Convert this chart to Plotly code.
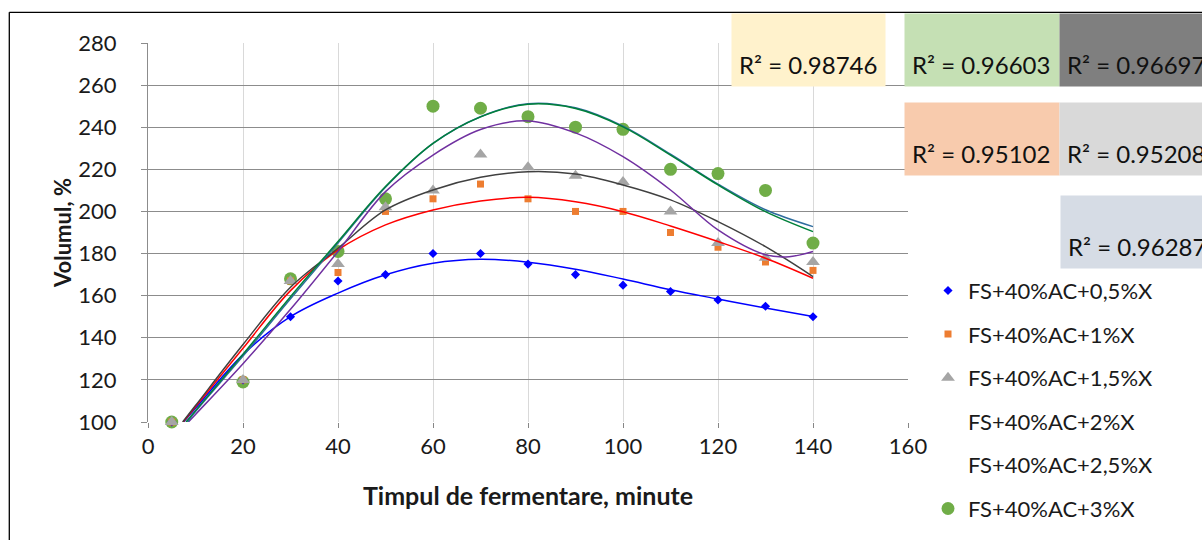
import plotly.graph_objects as go

# ---------------- data ----------------
x_time = [5, 20, 30, 40, 50, 60, 70, 80, 90, 100, 110, 120, 130, 140]

v_05 = [100, 120, 150, 167, 170, 180, 180, 175, 170, 165, 162, 158, 155, 150]
v_1 = [100, 120, 167, 171, 200, 206, 213, 206, 200, 200, 190, 183, 176, 172]
v_15 = [100, 120, 167, 175, 202, 210, 227, 221, 217, 214, 200, 185, 178, 176]
v_3 = [100, 119, 168, 181, 206, 250, 249, 245, 240, 239, 220, 218, 210, 185]

series_names = ["FS+40%AC+0,5%X", "FS+40%AC+1%X", "FS+40%AC+1,5%X",
                "FS+40%AC+2%X", "FS+40%AC+2,5%X", "FS+40%AC+3%X"]

# trendlines
tx_blue = [7.5, 10, 20, 30, 40, 50, 60, 70, 80, 90, 100, 110, 120, 130, 140]
ty_blue = [100, 106.5, 132, 150, 161.2, 169.9, 175.4, 177.3, 175.9, 172.6, 167.9, 162.8, 158.4, 154.1, 150.1]

tx_red = [7.4, 10, 20, 30, 40, 50, 60, 70, 80, 90, 100, 110, 120, 130, 140]
ty_red = [100, 107.2, 135, 162.4, 181.7, 193.6, 200.7, 205, 206.7, 204.6, 199.9, 193.1, 185.7, 177.8, 168.3]

tx_gray = [7.3, 10, 20, 30, 40, 50, 60, 70, 80, 90, 100, 110, 120, 130, 140]
ty_gray = [100, 107.8, 136.8, 164, 182.5, 200.7, 210.2, 216.2, 218.9, 217.8, 212.6, 205.5, 195.2, 183.3, 169.1]

tx_purple = [8.5, 10, 20, 30, 40, 50, 60, 70, 80, 90, 100, 110, 120, 130, 135, 140]
ty_purple = [100, 103.6, 127.7, 153.5, 181, 209.4, 226.8, 238.9, 243, 237.3, 226, 210.2, 191.2, 179.4, 178.5, 181]

tx_green = [8, 10, 20, 30, 40, 50, 60, 70, 80, 90, 100, 110, 120, 130, 140]
ty_green = [100, 105.4, 132.2, 159.5, 185.7, 211.8, 232.3, 244.9, 250.9, 248.9, 240.2, 226.8, 212.6, 199.9, 190.4]

tx_teal = [8.3, 10, 20, 30, 40, 50, 60, 70, 80, 90, 100, 110, 120, 130, 140]
ty_teal = [100, 105, 131.3, 158.5, 185, 211.5, 232.3, 245, 251.2, 249.2, 240.5, 227.2, 213, 200.8, 192.8]

r2_labels = ["R² = 0.98746", "R² = 0.96603", "R² = 0.96697",
             "R² = 0.95102", "R² = 0.95208", "R² = 0.96287"]

# ---------------- layout geometry ----------------
W, H = 1202, 540
L, R, T, B = 148, 908, 43, 422.5


def px_x(px):
    return (px - L) / (R - L)


def px_y(py):
    return (B - py) / (B - T)


FONT = "Lato, 'Open Sans', sans-serif"
TXT = "#1a1a1a"

fig = go.Figure()

# markers (green first so others sit on it)
fig.add_trace(go.Scatter(x=x_time, y=v_3, mode="markers", name=series_names[5],
                         marker=dict(symbol="circle", size=13, color="#70AD47"),
                         cliponaxis=False, legendrank=6, legendgroup="g6"))
fig.add_trace(go.Scatter(x=x_time, y=v_05, mode="markers", name=series_names[0],
                         marker=dict(symbol="diamond", size=7, color="#0000FF"),
                         cliponaxis=False, legendrank=1, legendgroup="g1"))
fig.add_trace(go.Scatter(x=x_time, y=v_1, mode="markers", name=series_names[1],
                         marker=dict(symbol="square", size=7, color="#ED7D31"),
                         cliponaxis=False, legendrank=2, legendgroup="g2"))
fig.add_trace(go.Scatter(x=x_time, y=v_15, mode="markers", name=series_names[2],
                         marker=dict(symbol="triangle-up", size=12, color="#A5A5A5"),
                         cliponaxis=False, legendrank=3, legendgroup="g3"))
fig.add_trace(go.Scatter(x=[None], y=[None], mode="markers", name=series_names[3],
                         marker=dict(size=8, color="rgba(0,0,0,0)"),
                         legendrank=4, legendgroup="g4"))
fig.add_trace(go.Scatter(x=[None], y=[None], mode="markers", name=series_names[4],
                         marker=dict(size=8, color="rgba(0,0,0,0)"),
                         legendrank=5, legendgroup="g5"))

# trendlines
for tx, ty, col in [(tx_blue, ty_blue, "#0000FF"), (tx_red, ty_red, "#FF0000"),
                    (tx_gray, ty_gray, "#404040"), (tx_purple, ty_purple, "#7030A0"),
                    (tx_teal, ty_teal, "#2E6C9E"), (tx_green, ty_green, "#00803A")]:
    fig.add_trace(go.Scatter(x=tx, y=ty, mode="lines", showlegend=False, hoverinfo="skip",
                             line=dict(color=col, width=1.5, shape="spline", smoothing=1.0)))

# R² boxes
boxes = [
    (r2_labels[0], "#FFF2CC", 731, 13, 153, 72),
    (r2_labels[1], "#C5E0B4", 904, 13, 154, 72),
    (r2_labels[2], "#7F7F7F", 1059, 13, 170, 72),
    (r2_labels[3], "#F8CBAD", 904, 101.7, 154, 71.6),
    (r2_labels[4], "#D9D9D9", 1059, 101.7, 170, 71.6),
    (r2_labels[5], "#D6DCE5", 1060, 195, 170, 71.7),
]
pad = 7
for text, bg, bx, by, bw, bh in boxes:
    fig.add_annotation(text=text, xref="paper", yref="paper",
                       x=px_x(bx), y=px_y(by), xanchor="left", yanchor="top",
                       width=bw - 2 * pad, height=bh - 2 * pad, borderpad=pad,
                       align="left", valign="bottom", bgcolor=bg, showarrow=False,
                       font=dict(family=FONT, size=24, color="#111111"))

# chart border (top and left edges visible)
fig.add_shape(type="line", xref="paper", yref="paper",
              x0=px_x(9.3), x1=px_x(1230), y0=px_y(12.3), y1=px_y(12.3),
              line=dict(color="#000000", width=1.3))
fig.add_shape(type="line", xref="paper", yref="paper",
              x0=px_x(9.3), x1=px_x(9.3), y0=px_y(12.3), y1=px_y(560),
              line=dict(color="#000000", width=1.3))

fig.update_layout(
    width=W, height=H,
    margin=dict(l=L, r=W - R, t=T, b=H - B, autoexpand=False),
    paper_bgcolor="white", plot_bgcolor="white",
    font=dict(family=FONT, size=22, color=TXT),
    showlegend=True,
    legend=dict(x=px_x(928), y=px_y(270), xanchor="left", yanchor="top",
                font=dict(family=FONT, size=22, color=TXT),
                tracegroupgap=12, itemwidth=30, bgcolor="rgba(0,0,0,0)",
                traceorder="grouped"),
    xaxis=dict(range=[0, 160], dtick=20, tick0=0, showgrid=True, gridcolor="#D9D9D9",
               gridwidth=1, zeroline=False, showline=False,
               ticks="outside", ticklen=5, tickcolor="#868686",
               tickfont=dict(family=FONT, size=22, color=TXT),
               title=dict(text="<b>Timpul de fermentare, minute</b>", standoff=29,
                          font=dict(family=FONT, size=25, color=TXT))),
    yaxis=dict(range=[100, 280], dtick=20, tick0=100, showgrid=True, gridcolor="#8C8C8C",
               gridwidth=1, zeroline=False, showline=True, linecolor="#8C8C8C",
               ticks="outside", ticklen=6, tickcolor="#8C8C8C",
               ticklabelstandoff=20,
               tickfont=dict(family=FONT, size=22, color=TXT),
               title=dict(text="<b>Volumul, %</b>", standoff=0,
                          font=dict(family=FONT, size=22, color=TXT))),
)

fig.write_html("out.html")
